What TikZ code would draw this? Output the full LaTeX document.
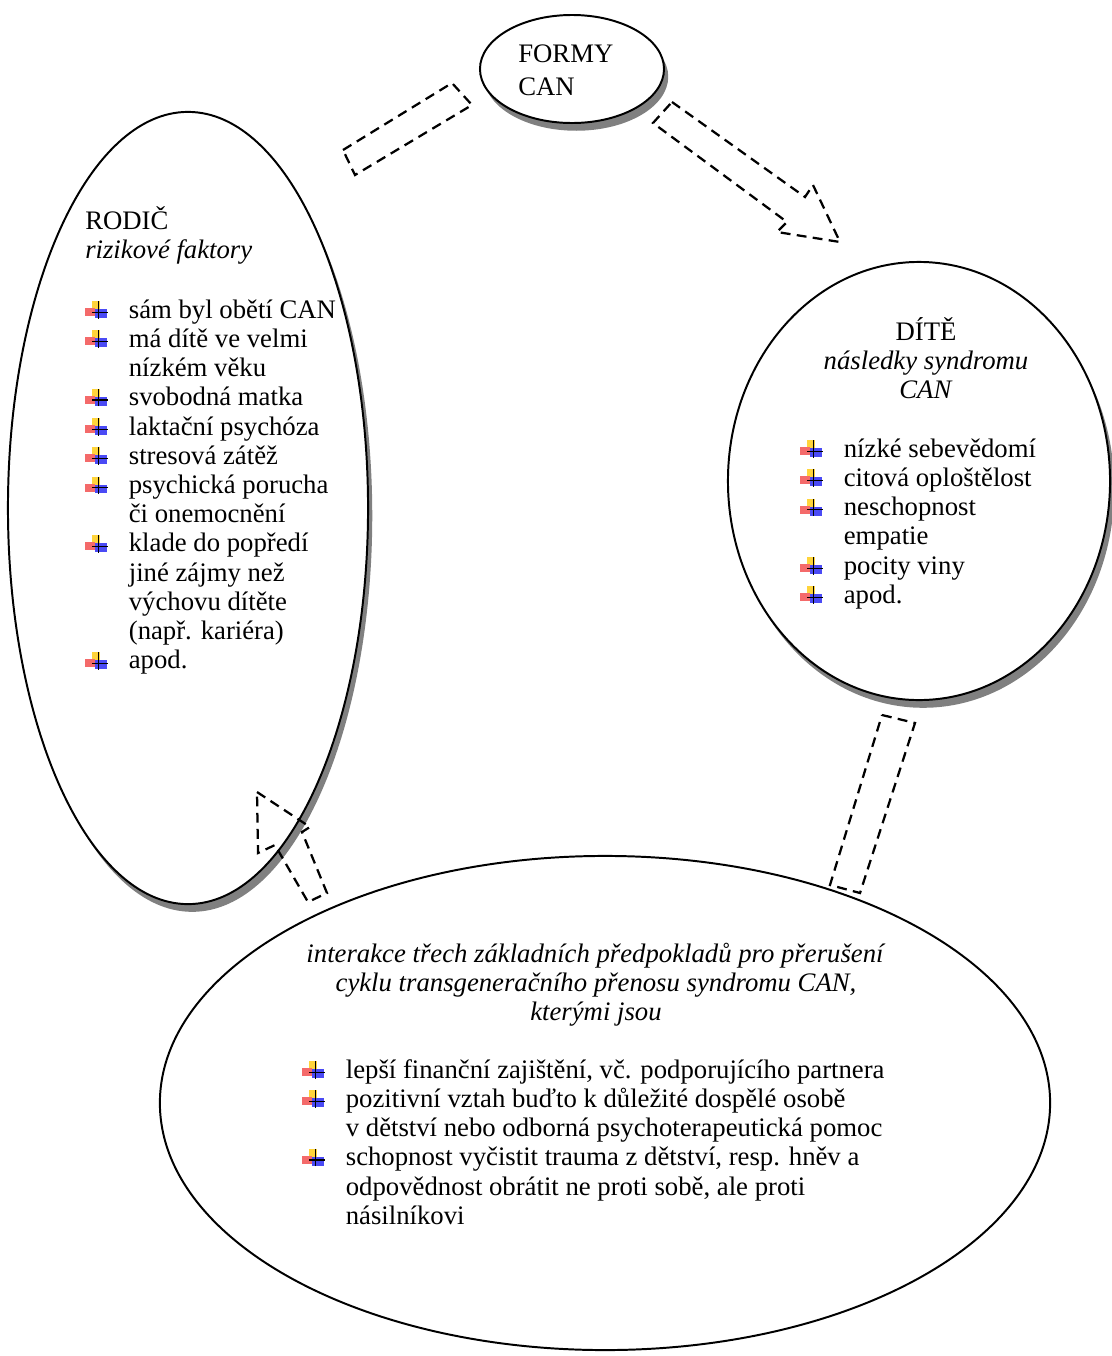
\documentclass[tikz,border=0pt]{standalone}
\usepackage{fontspec}
\setmainfont{Liberation Serif}
\usepackage{tikz}
\usetikzlibrary{shapes.geometric,shadows}

\definecolor{bulyellow}{HTML}{FFD43B}
\definecolor{bulred}{HTML}{F46A6A}
\definecolor{bulblue}{HTML}{4A4AF5}

% small coloured cross used as list bullet
\newcommand{\canbullet}{%
  \makebox[0pt][l]{\hspace{5pt}\textcolor{bulyellow}{\rule[5pt]{5.7pt}{7pt}}}%
  \makebox[0pt][l]{\textcolor{bulred}{\rule[1.4pt]{7pt}{5.7pt}}}%
  \makebox[0pt][l]{\hspace{7pt}\textcolor{bulblue}{\rule[0pt]{8.6pt}{6.4pt}}}%
  \makebox[0pt][l]{\hspace{9pt}\rule[-0.5pt]{0.9pt}{12.5pt}}%
  \makebox[0pt][l]{\hspace{5pt}\rule[3.6pt]{11pt}{0.9pt}}}
\newcommand{\bul}{\makebox[31pt][l]{\canbullet}}

\begin{document}
\begin{tikzpicture}[x=0.025cm, y=-0.025cm,
    bubble/.style={draw, ellipse, line width=1.4pt, fill=white, inner sep=0pt},
    bubbleshadow/.style={drop shadow={shadow xshift=3pt, shadow yshift=-5.5pt,
        fill=black!50, opacity=1}},
    blockarrow/.style={line width=1.6pt, dash pattern=on 7pt off 4.5pt},
    txt/.style={inner sep=0pt, font=\fontsize{19}{20.8}\selectfont}]

    \useasboundingbox (0,0) rectangle (1112,1356);

    % FORMY CAN
    \node [bubble, bubbleshadow,
        minimum width=4.6cm,
        minimum height=2.7cm,
    ] (formy) at (572,69) {};
    \node [txt, anchor=base west] (formytext) at (518,62)
        {\begin{tabular}[t]{@{}l@{}}FORMY\\[2.7pt] CAN\end{tabular}};

    % RODIC
    \node [bubble, bubbleshadow,
        minimum width=9cm,
        minimum height=19.8cm,
    ] (rodic) at (188,508) {};
    \node [txt, anchor=base west] (rodictitle) at (85,229)
        {\begin{tabular}[t]{@{}l@{}}RODIČ\\ \textit{rizikové faktory}\end{tabular}};
    \node [txt, anchor=base west] (rodiclist) at (85,318)
        {\begin{tabular}[t]{@{}l@{}l@{}}
        \bul & sám byl obětí CAN\\
        \bul & má dítě ve velmi\\
             & nízkém věku\\
        \bul & svobodná matka\\
        \bul & laktační psychóza\\
        \bul & stresová zátěž\\
        \bul & psychická porucha\\
             & či onemocnění\\
        \bul & klade do popředí\\
             & jiné zájmy než\\
             & výchovu dítěte\\
             & (např. kariéra)\\
        \bul & apod.
        \end{tabular}};

    % DITE
    \node [bubble, bubbleshadow,
        minimum width=9.55cm,
        minimum height=10.95cm,
    ] (dite) at (919,481) {};
    \node [txt, anchor=base] (ditetitle) at (926,340)
        {\begin{tabular}[t]{@{}c@{}}DÍTĚ\\ \textit{následky syndromu}\\ \textit{CAN}\end{tabular}};
    \node [txt, anchor=base west] (ditelist) at (800,457)
        {\begin{tabular}[t]{@{}l@{}l@{}}
        \bul & nízké sebevědomí\\
        \bul & citová oploštělost\\
        \bul & neschopnost\\
             & empatie\\
        \bul & pocity viny\\
        \bul & apod.
        \end{tabular}};

    % interakce
    \node [bubble,
        minimum width=22.25cm,
        minimum height=12.35cm,
    ] (interakce) at (605,1103) {};
    \node [txt, anchor=base] (interakcetitle) at (596,962)
        {\begin{tabular}[t]{@{}c@{}}\textit{interakce třech základních předpokladů pro přerušení}\\
        \textit{cyklu transgeneračního přenosu syndromu CAN,}\\
        \textit{kterými jsou}\end{tabular}};
    \node [txt, anchor=base west] (interakcelist) at (302,1078)
        {\begin{tabular}[t]{@{}l@{}l@{}}
        \bul & lepší finanční zajištění, vč. podporujícího partnera\\
        \bul & pozitivní vztah buďto k důležité dospělé osobě\\
             & v dětství nebo odborná psychoterapeutická pomoc\\
        \bul & schopnost vyčistit trauma z dětství, resp. hněv a\\
             & odpovědnost obrátit ne proti sobě, ale proti\\
             & násilníkovi
        \end{tabular}};

    % block arrows
    \draw[blockarrow] (343,150) -- (452,83) -- (472,105) -- (355,175) -- cycle;
    \draw[blockarrow] (672,102) -- (805,197) -- (813,185) -- (840,242)
        -- (777,232) -- (787,222) -- (653,123) -- cycle;
    \draw[blockarrow] (882,715) -- (915,723) -- (860,893) -- (830,885) -- cycle;
    \draw[blockarrow] (257,792) -- (310,827) -- (302,832) -- (327,893)
        -- (308,902) -- (275,845) -- (258,853) -- cycle;
\end{tikzpicture}
\end{document}
